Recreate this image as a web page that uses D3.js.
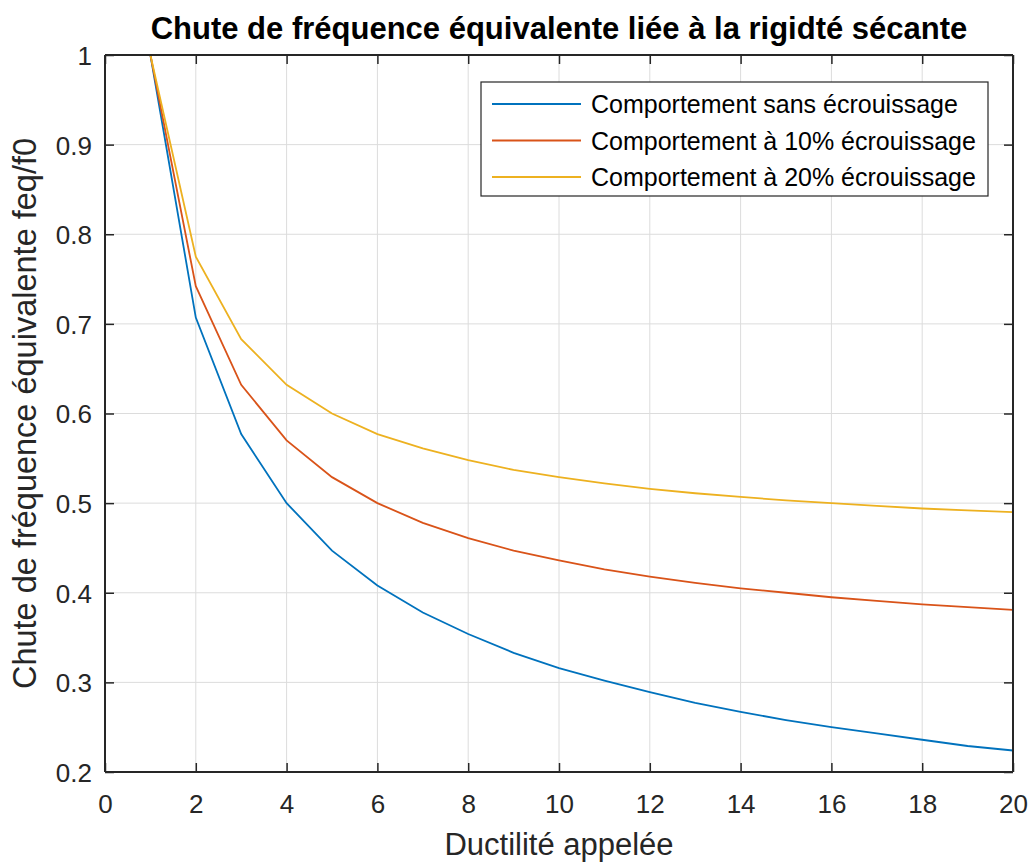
<!DOCTYPE html>
<html><head><meta charset="utf-8">
<script src="https://cdn.jsdelivr.net/npm/d3@7"></script>
<style>body{margin:0;background:#fff}svg{display:block}text{font-family:"Liberation Sans",Arial,sans-serif}</style>
</head><body>
<script>
const ductility = [1,2,3,4,5,6,7,8,9,10,11,12,13,14,15,16,17,18,19,20];
const sansEcrouissage = [1.000,0.707,0.577,0.500,0.447,0.408,0.378,0.354,0.333,0.316,0.302,0.289,0.277,0.267,0.258,0.250,0.243,0.236,0.229,0.224];
const ecrouissage10 = [1.000,0.742,0.632,0.570,0.529,0.500,0.478,0.461,0.447,0.436,0.426,0.418,0.411,0.405,0.400,0.395,0.391,0.387,0.384,0.381];
const ecrouissage20 = [1.000,0.775,0.683,0.632,0.600,0.577,0.561,0.548,0.537,0.529,0.522,0.516,0.511,0.507,0.503,0.500,0.497,0.494,0.492,0.490];
const seriesNames = ["Comportement sans écrouissage","Comportement à 10% écrouissage","Comportement à 20% écrouissage"];
const seriesColors = ["#0072BD","#D95319","#EDB120"];
const xTicks = [0,2,4,6,8,10,12,14,16,18,20];
const yTicks = [0.2,0.3,0.4,0.5,0.6,0.7,0.8,0.9,1];
const titleText = "Chute de fréquence équivalente liée à la rigidté sécante";
const xLabel = "Ductilité appelée";
const yLabel = "Chute de fréquence équivalente feq/f0";

const W=1030,H=862;
const L=105,R=1013,T=55,B=772;
const svg=d3.select("body").append("svg").attr("width",W).attr("height",H);
const x=d3.scaleLinear().domain([0,20]).range([L,R]);
const y=d3.scaleLinear().domain([0.2,1]).range([B,T]);
const axisColor="#262626";

// grid
const g=svg.append("g");
g.selectAll(".vg").data(xTicks).enter().append("line")
 .attr("x1",d=>x(d)).attr("x2",d=>x(d)).attr("y1",T).attr("y2",B)
 .attr("stroke","#dcdcdc").attr("stroke-width",1);
g.selectAll(".hg").data(yTicks).enter().append("line")
 .attr("y1",d=>y(d)).attr("y2",d=>y(d)).attr("x1",L).attr("x2",R)
 .attr("stroke","#dcdcdc").attr("stroke-width",1);

// lines
const allSeries=[sansEcrouissage,ecrouissage10,ecrouissage20];
const line=d3.line().x((d,i)=>x(ductility[i])).y(d=>y(d));
svg.append("clipPath").attr("id","c").append("rect").attr("x",L).attr("y",T-2).attr("width",R-L).attr("height",B-T+4);
allSeries.forEach((s,k)=>{
  svg.append("path").datum(s).attr("d",line).attr("fill","none")
   .attr("stroke",seriesColors[k]).attr("stroke-width",1.8).attr("clip-path","url(#c)");
});

// axes
const tickLen=9;
const axB=svg.append("g").attr("transform",`translate(0,${B})`).call(d3.axisBottom(x).tickValues(xTicks).tickSize(-tickLen).tickFormat(d3.format("d")));
const axT=svg.append("g").attr("transform",`translate(0,${T})`).call(d3.axisTop(x).tickValues(xTicks).tickSize(-tickLen).tickFormat(""));
const axL=svg.append("g").attr("transform",`translate(${L},0)`).call(d3.axisLeft(y).tickValues(yTicks).tickSize(-tickLen).tickFormat(d=>d===1?"1":d3.format(".1f")(d)));
const axR=svg.append("g").attr("transform",`translate(${R},0)`).call(d3.axisRight(y).tickValues(yTicks).tickSize(-tickLen).tickFormat(""));
[axB,axT,axL,axR].forEach(a=>{
  a.select(".domain").attr("stroke",axisColor).attr("stroke-width",2);
  a.selectAll(".tick line").attr("stroke",axisColor).attr("stroke-width",1.5);
  a.selectAll("text").attr("fill",axisColor).style("font-size","26px").style("font-family","'Liberation Sans',Arial,sans-serif");
});
axB.selectAll(".domain").attr("d",`M${L},0H${R}`);
axT.selectAll(".domain").attr("d",`M${L},0H${R}`);
axL.selectAll(".domain").attr("d",`M0,${B}V${T}`);
axR.selectAll(".domain").attr("d",`M0,${B}V${T}`);
axB.selectAll(".tick text").attr("dy",null).attr("y",41);
axL.selectAll(".tick text").attr("x",-13).attr("dy","0.36em");

// title & labels
svg.append("text").attr("x",(L+R)/2).attr("y",39).attr("text-anchor","middle")
 .style("font-size","31px").style("font-weight","bold").attr("fill","#000").text(titleText);
svg.append("text").attr("x",(L+R)/2).attr("y",855).attr("text-anchor","middle")
 .style("font-size","31px").attr("fill",axisColor).text(xLabel);
svg.append("text").attr("transform",`translate(36,${(T+B)/2}) rotate(-90)`).attr("text-anchor","middle")
 .style("font-size","32.5px").attr("fill",axisColor).text(yLabel);

// legend
const lg=svg.append("g");
lg.append("rect").attr("x",481).attr("y",82).attr("width",507).attr("height",114)
 .attr("fill","#fff").attr("stroke",axisColor).attr("stroke-width",1.2);
seriesNames.forEach((n,k)=>{
  const yy=104+k*36.5;
  lg.append("line").attr("x1",492).attr("x2",581).attr("y1",yy).attr("y2",yy)
   .attr("stroke",seriesColors[k]).attr("stroke-width",1.8);
  lg.append("text").attr("x",591).attr("y",yy).attr("dy","0.36em")
   .style("font-size","25px").attr("fill","#000").text(n);
});
</script>
</body></html>
